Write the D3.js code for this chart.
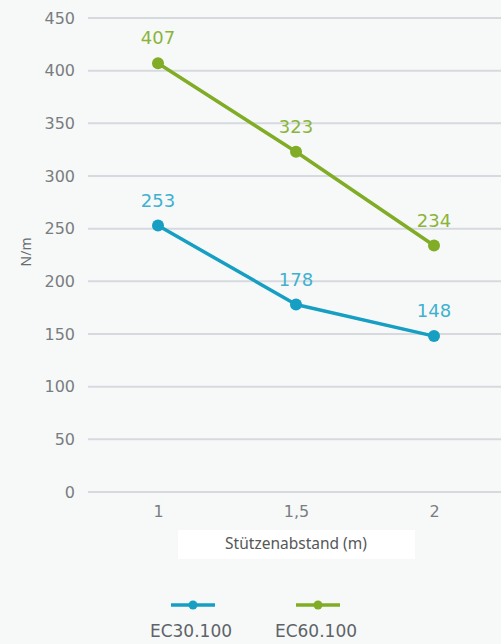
<!DOCTYPE html>
<html>
<head>
<meta charset="utf-8">
<script src="https://cdn.jsdelivr.net/npm/d3@7"></script>
<style>
  html, body { margin: 0; padding: 0; background: #f7f9f9; }
  svg { display: block; }
</style>
</head>
<body>
<svg id="chart" width="501" height="644"></svg>
<script>
// Load per metre for two cable-tray systems at different support spacings
const spacings = ["1", "1,5", "2"];
const seriesNames = ["EC30.100", "EC60.100"];
const ec30 = [253, 178, 148];
const ec60 = [407, 323, 234];
const yTicks = [0, 50, 100, 150, 200, 250, 300, 350, 400, 450];
const xTitle = "Stützenabstand (m)";
const yTitle = "N/m";

const colors = { "EC30.100": "#169fc3", "EC60.100": "#80ac26" };
const labelColors = { "EC30.100": "#3fb1cf", "EC60.100": "#8ab53a" };

const svg = d3.select("#chart");
const W = 501, H = 644;
const m = { left: 88, right: 0, top: 18, bottom: 152 };

const x = d3.scalePoint().domain(spacings).range([158, 434]);
const y = d3.scaleLinear().domain([0, 450]).range([H - m.bottom, m.top]);

const numFont = "'DejaVu Sans', sans-serif";
const textFont = "'Noto Sans', 'DejaVu Sans', sans-serif";

// horizontal grid
svg.append("g").selectAll("line").data(yTicks).join("line")
  .attr("x1", m.left).attr("x2", W)
  .attr("y1", d => y(d)).attr("y2", d => y(d))
  .attr("stroke", "#d6dadf").attr("stroke-width", 2);

// y axis ticks
const yAxis = d3.axisLeft(y).tickValues(yTicks).tickSize(0).tickPadding(0);
const gy = svg.append("g").attr("transform", "translate(75,0)").call(yAxis);
gy.select(".domain").remove();
gy.selectAll("text").attr("font-family", numFont).attr("font-size", 16)
  .attr("fill", "#7a7d80");

// x axis ticks
const xAxis = d3.axisBottom(x).tickSize(0).tickPadding(0);
const gx = svg.append("g").attr("transform", "translate(0,506)").call(xAxis);
gx.select(".domain").remove();
gx.selectAll("text").attr("font-family", numFont).attr("font-size", 16)
  .attr("fill", "#7a7d80");

// y title
svg.append("text")
  .attr("transform", "translate(31,252) rotate(-90)")
  .attr("text-anchor", "middle")
  .attr("font-family", textFont).attr("font-size", 14).attr("fill", "#6a6d70")
  .text(yTitle);

// x title in a white box
svg.append("rect").attr("x", 178).attr("y", 530).attr("width", 237).attr("height", 29)
  .attr("fill", "#ffffff");
svg.append("text")
  .attr("x", 296).attr("y", 549).attr("text-anchor", "middle")
  .attr("font-family", textFont).attr("font-size", 15.5).attr("fill", "#555859")
  .text(xTitle);

// series
const series = [
  { name: "EC30.100", values: ec30 },
  { name: "EC60.100", values: ec60 }
];
const line = d3.line().x((d, i) => x(spacings[i])).y(d => y(d));

series.forEach(s => {
  const g = svg.append("g");
  g.append("path").datum(s.values).attr("d", line)
    .attr("fill", "none").attr("stroke", colors[s.name]).attr("stroke-width", 3.5)
    .attr("stroke-linejoin", "round");
  g.selectAll("circle").data(s.values).join("circle")
    .attr("cx", (d, i) => x(spacings[i])).attr("cy", d => y(d)).attr("r", 6)
    .attr("fill", colors[s.name]);
  g.selectAll("text").data(s.values).join("text")
    .attr("x", (d, i) => x(spacings[i])).attr("y", d => y(d) - 19)
    .attr("text-anchor", "middle")
    .attr("font-family", numFont).attr("font-size", 18).attr("fill", labelColors[s.name])
    .text(d => d);
});

// legend
const legendX = { "EC30.100": 193, "EC60.100": 318 };
seriesNames.forEach(n => {
  const cx = legendX[n];
  svg.append("line").attr("x1", cx - 22).attr("x2", cx + 22).attr("y1", 605).attr("y2", 605)
    .attr("stroke", colors[n]).attr("stroke-width", 3.5);
  svg.append("circle").attr("cx", cx).attr("cy", 605).attr("r", 4.5).attr("fill", colors[n]);
  svg.append("text").attr("x", cx - 2).attr("y", 637).attr("text-anchor", "middle")
    .attr("font-family", numFont).attr("font-size", 17).attr("fill", "#5e6368")
    .text(n);
});
</script>
</body>
</html>
